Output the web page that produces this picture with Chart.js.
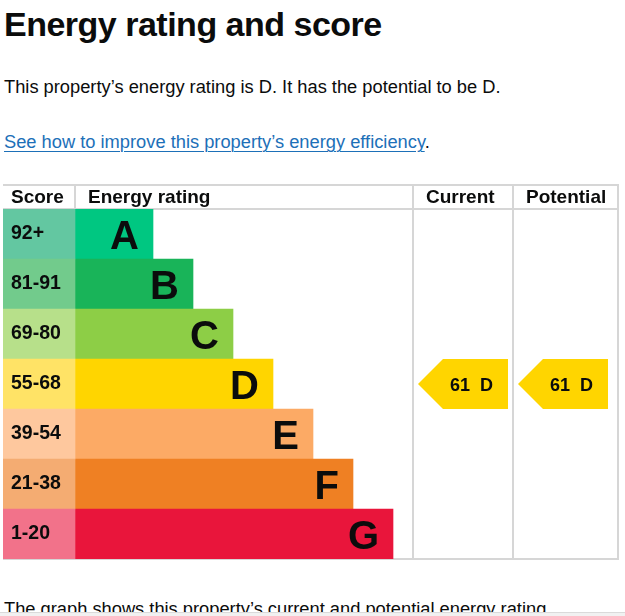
<!DOCTYPE html>
<html>
<head>
<meta charset="utf-8">
<title>Energy rating and score</title>
<script src="https://cdn.jsdelivr.net/npm/chart.js@4.4.0/dist/chart.umd.min.js"></script>
<style>
  html, body { margin: 0; padding: 0; background: #fff; overflow: hidden; }
  body { width: 625px; height: 616px; position: relative; font-family: "Liberation Sans", Arial, sans-serif; color: #0b0c0c; }
  h1 { position: absolute; left: 4px; top: 4px; margin: 0; font-size: 34px; line-height: 40px; letter-spacing: -0.5px; font-weight: bold; }
  p { position: absolute; left: 4px; margin: 0; font-size: 18.3px; line-height: 24px; white-space: nowrap; }
  a { color: #1d70b8; text-decoration: underline; text-decoration-thickness: 1px; text-underline-offset: 3px; }
  #epc { position: absolute; left: 3px; top: 184px; }
  .scrollbar { position: absolute; left: 0; top: 612px; width: 625px; height: 4px; background: #f1f1f1; border-top: 1px solid #dadada; box-sizing: border-box; }
</style>
</head>
<body>
<h1>Energy rating and score</h1>
<p style="top:75px">This property’s energy rating is D. It has the potential to be D.</p>
<p style="top:130px"><a href="#">See how to improve this property’s energy efficiency</a>.</p>
<canvas id="epc" width="616" height="377"></canvas>
<p style="top:597px">The graph shows this property’s current and potential energy rating.</p>
<div class="scrollbar"></div>

<script>
// Bands, top (best) to bottom (worst)
const ratings = ['A', 'B', 'C', 'D', 'E', 'F', 'G'];
const scoreBands = ['92+', '81-91', '69-80', '55-68', '39-54', '21-38', '1-20'];
const bandMinimums = [92, 81, 69, 55, 39, 21, 1];
const barLengths = [78, 118, 158, 198, 238, 278, 318];
const bandColours = ['#00c781', '#19b459', '#8dce46', '#ffd500', '#fcaa65', '#ef8023', '#e9153b'];
const scoreColours = ['#63c7a1', '#72cb8c', '#b7e08a', '#ffe366', '#fec89e', '#f4ac72', '#f2728a'];
const headers = ['Score', 'Energy rating', 'Current', 'Potential'];
const currentScore = 61;
const potentialScore = 61;

// Table layout (x scale units = px across the table)
const SCORE_COL = 72;
const CURRENT_COL = 410;
const POTENTIAL_COL = 510;
const TABLE_END = 615;
const FONT = '"Liberation Sans", Arial, sans-serif';

function bandIndex(score) {
    return bandMinimums.findIndex(min => score >= min);
}

const epcTable = {
    id: 'epcTable',
    beforeDatasetsDraw(chart) {
        const { ctx, chartArea: area, scales: { x } } = chart;
        ctx.save();
        ctx.fillStyle = '#d6d6d6';
        // horizontal rules: top, under header, bottom
        ctx.fillRect(0, 0, chart.width, 2);
        ctx.fillRect(0, area.top - 1, chart.width, 2);
        ctx.fillRect(0, area.bottom - 1, chart.width, 2);
        // column rules
        [CURRENT_COL, POTENTIAL_COL, TABLE_END].forEach(v => {
            const px = x.getPixelForValue(v);
            ctx.fillRect(px - 1, 0, 2, area.bottom + 1);
        });
        const sx = x.getPixelForValue(SCORE_COL);
        ctx.fillRect(sx - 1, 0, 2, area.top);
        ctx.restore();
    },
    afterDatasetsDraw(chart) {
        const { ctx, chartArea: area, scales: { x, y } } = chart;
        const rowH = (area.bottom - area.top) / ratings.length;
        ctx.save();
        ctx.fillStyle = '#0b0c0c';
        ctx.textBaseline = 'alphabetic';

        // header row
        ctx.font = 'bold 19px ' + FONT;
        ctx.textAlign = 'left';
        ctx.fillText(headers[0], x.getPixelForValue(0) + 8, area.top - 6);
        ctx.fillText(headers[1], x.getPixelForValue(SCORE_COL) + 13, area.top - 6);
        ctx.fillText(headers[2], x.getPixelForValue(CURRENT_COL) + 13, area.top - 6);
        ctx.fillText(headers[3], x.getPixelForValue(POTENTIAL_COL) + 13, area.top - 6);

        // score band labels
        chart.getDatasetMeta(0).data.forEach((bar, i) => {
            ctx.font = 'bold 19.5px ' + FONT;
            ctx.textAlign = 'left';
            ctx.fillText(scoreBands[i], area.left + 8, bar.y + 5);
        });

        // rating letters at the end of each bar
        chart.getDatasetMeta(1).data.forEach((bar, i) => {
            ctx.font = 'bold 40px ' + FONT;
            ctx.textAlign = 'right';
            ctx.fillText(ratings[i], bar.x - 14, bar.y + 14.5);
        });

        // current / potential arrows
        [[currentScore, CURRENT_COL], [potentialScore, POTENTIAL_COL]].forEach(([score, col]) => {
            const idx = bandIndex(score);
            const yc = y.getPixelForValue(idx);
            const top = yc - rowH / 2, bottom = yc + rowH / 2;
            const tip = x.getPixelForValue(col + 5);
            const right = x.getPixelForValue(col + 95);
            ctx.beginPath();
            ctx.moveTo(tip, yc);
            ctx.lineTo(tip + rowH / 2, top);
            ctx.lineTo(right, top);
            ctx.lineTo(right, bottom);
            ctx.lineTo(tip + rowH / 2, bottom);
            ctx.closePath();
            ctx.fillStyle = bandColours[idx];
            ctx.fill();

            ctx.fillStyle = '#0b0c0c';
            ctx.font = 'bold 18px ' + FONT;
            ctx.textAlign = 'right';
            ctx.fillText(ratings[idx], right - 15, yc + 6.5);
            const letterW = ctx.measureText(ratings[idx]).width;
            ctx.fillText(String(score), right - 15 - letterW - 10, yc + 6.5);
        });
        ctx.restore();
    }
};

new Chart(document.getElementById('epc'), {
    type: 'bar',
    data: {
        labels: ratings,
        datasets: [{
            label: 'Score',
            data: ratings.map(() => SCORE_COL),
            backgroundColor: scoreColours,
            borderWidth: 0,
            barPercentage: 1,
            categoryPercentage: 1
        }, {
            label: 'Energy rating',
            data: barLengths,
            backgroundColor: bandColours,
            borderWidth: 0,
            barPercentage: 1,
            categoryPercentage: 1
        }]
    },
    options: {
        indexAxis: 'y',
        responsive: false,
        animation: false,
        events: [],
        layout: { padding: { top: 25, bottom: 2, left: 0, right: 1 } },
        plugins: { legend: { display: false }, tooltip: { enabled: false } },
        scales: {
            x: { type: 'linear', min: 0, max: TABLE_END, stacked: true, display: false },
            y: { stacked: true, display: false }
        }
    },
    plugins: [epcTable]
});
</script>
</body>
</html>
